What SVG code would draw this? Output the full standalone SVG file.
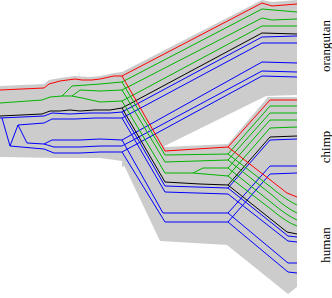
<svg xmlns="http://www.w3.org/2000/svg" width="332" height="298" viewBox="0 0 332 298">
<style>
.band{fill:#cccccc;stroke:none}
.ln{fill:none;stroke-width:1;stroke-linejoin:miter}
.r{stroke:#ff0000}.g{stroke:#00b400}.k{stroke:#000000}.b{stroke:#0000ff}
.lbl{font-family:"Liberation Serif","Times New Roman",serif;font-size:13px;fill:#000}
</style>
<rect width="332" height="298" fill="#ffffff"/>
<g id="species-tree">
<g id="branch-root"><polygon class="band" points="0,86 44,84 49,80 60,78 75,76 90,77 100,76 114,73 122,72 122,161 100,158 60,158 0,157"/></g>
<g id="branch-orangutan"><polygon class="band" points="122,72 262,0 272,2 297,0 297,95 266,96 122,167"/></g>
<g id="branch-ancestor"><polygon class="band" points="122,72 165,147 228,144 228,245 160,241 122,161"/></g>
<g id="branch-chimp"><polygon class="band" points="228,144 268,97 297,97 297,196 270,196 228,240"/></g>
<g id="branch-human"><polygon class="band" points="228,146 287,190 297,194 297,287 288,294 227,245"/></g>
</g>
<g id="lineages">
<g id="root-lineages">
<path class="ln r" d="M0,90 L44,88 L49,84 L60,81 L75,79 L82,80 L92,80 L100,79 L114,76 L122,76"/>
<path class="ln g" d="M0,103 L42,100 L50,97 L62,96 L72,86 L100,84 L122,82 M62,96 L72,96 L80,90 L100,91 L122,90 M72,96 L82,98 L100,102 L122,101"/>
<path class="ln k" d="M0,116 L42,114 L50,111 L60,111 L70,110 L80,111 L95,110 L110,110 L122,108"/>
<path class="ln b" d="M0,118 L44,116 L52,113 L70,114 L90,113 L110,113 L122,112 M2,118 L10,146 L18,125 L44,123 L52,119 L75,119 L95,118 L122,118 M18,125 L27,143 L44,144 L52,140 L80,140 L100,139 L122,140 M44,144 L54,147 L80,147 L100,146 L122,146 M10,146 L44,149 L54,153 L80,153 L100,152 L122,152"/>
</g>
<g id="orangutan-lineages">
<path class="ln r" d="M122,76 L262,3 L272,6 L297,4"/>
<path class="ln g" d="M122,82 L262,9 L297,12 M122,90 L262,18 L272,20 L297,19 M122,101 L262,26 L297,26"/>
<path class="ln k" d="M122,108 L262,33 L297,34"/>
<path class="ln b" d="M122,112 L262,37 L297,36 M122,118 L262,43 L297,43 M122,140 L262,62 L297,63 M122,146 L262,71 L297,72 M122,152 L262,76 L297,77"/>
</g>
<g id="ancestor-lineages">
<path class="ln r" d="M122,76 L165,151 L228,147"/>
<path class="ln g" d="M122,82 L165,155 L228,154 M122,90 L165,162 L228,160 M122,101 L165,173 L193,173 L228,176 M193,173 L203,168 L228,168"/>
<path class="ln k" d="M122,108 L165,182 L200,184 L228,185"/>
<path class="ln b" d="M122,112 L165,186 L228,188 M122,118 L165,192 L228,194 M122,140 L163,213 L228,213 M122,152 L165,222 L228,222"/>
</g>
<g id="chimp-lineages">
<path class="ln r" d="M228,147 L270,100 L297,100"/>
<path class="ln g" d="M228,154 L270,106 L297,106 M228,160 L270,113 L297,113 M228,168 L270,120 L297,120 M228,176 L270,128 L297,127"/>
<path class="ln k" d="M228,185 L270,137 L297,136"/>
<path class="ln b" d="M228,188 L270,140 L297,139 M228,213 L270,166 L297,166 M228,222 L270,174 L297,173"/>
</g>
<g id="human-lineages">
<path class="ln r" d="M228,147 L287,193 L297,197"/>
<path class="ln g" d="M228,154 L272,188 Q286,200 297,205 M228,160 L272,195 Q286,208 297,213 M228,168 L272,203 Q286,215 297,220 M228,176 L272,210 Q286,222 297,226"/>
<path class="ln k" d="M228,185 L287,232 L297,234"/>
<path class="ln b" d="M228,188 L288,236 L297,237 M228,194 L288,241 L297,242 M228,213 L288,263 L297,263 M228,222 L288,272 L297,273"/>
</g>
</g>
<g id="labels">
<text class="lbl" transform="translate(330,46) rotate(-90)" text-anchor="middle">orangutan</text>
<text class="lbl" transform="translate(330,147) rotate(-90)" text-anchor="middle">chimp</text>
<text class="lbl" transform="translate(330,245) rotate(-90)" text-anchor="middle">human</text>
</g>
</svg>
